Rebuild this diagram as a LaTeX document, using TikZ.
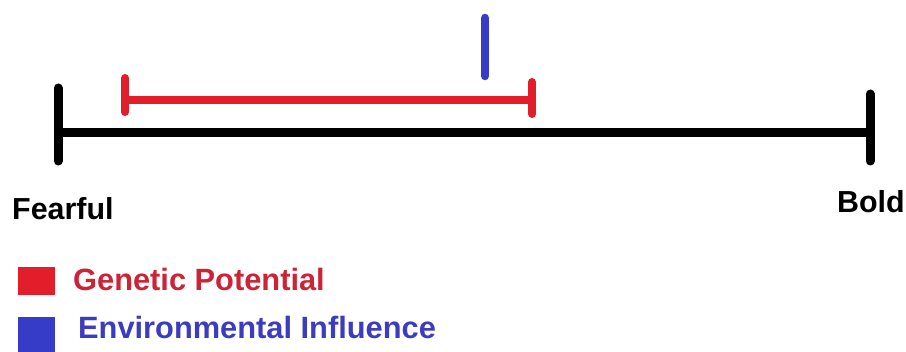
\documentclass[tikz,border=0pt]{standalone}
\usepackage{fontspec}
\setmainfont{Liberation Sans}
\definecolor{genred}{RGB}{225,30,42}
\definecolor{gentext}{RGB}{205,35,55}
\definecolor{envblue}{RGB}{55,60,200}
\definecolor{envtext}{RGB}{60,60,190}
\begin{document}
\begin{tikzpicture}[x=1pt,y=-1pt,
  bar/.style={line width=9pt,line cap=round},
  lbl/.style={inner sep=0pt,anchor=base west,font=\fontsize{30.4}{36}\selectfont\bfseries},
  leg/.style={lbl,font=\fontsize{30.8}{36}\selectfont\bfseries},
  swatch/.style={inner sep=0pt,minimum width=37pt,minimum height=28pt,anchor=north west}]
\useasboundingbox (0,0) rectangle (906,352);
% black scale
\coordinate (bL) at (58,133);
\coordinate (bR) at (870,133);
\coordinate (bLt) at (58,88);
\coordinate (bLb) at (58,161);
\coordinate (bRt) at (870,94);
\coordinate (bRb) at (870,161);
\draw[bar,black,line cap=butt] (bL) -- (bR);
\draw[bar,black] (bLt) -- (bLb);
\draw[bar,black] (bRt) -- (bRb);
% red genetic range
\coordinate (rL) at (125,100);
\coordinate (rR) at (532,100);
\coordinate (rLt) at (125,78);
\coordinate (rLb) at (125,112);
\coordinate (rRt) at (532,82);
\coordinate (rRb) at (532,114);
\draw[genred,line width=8pt] (rL) -- (rR);
\draw[bar,genred,line width=8pt] (rLt) -- (rLb);
\draw[bar,genred,line width=8pt] (rRt) -- (rRb);
% blue environmental mark
\coordinate (bt) at (485,18);
\coordinate (bb) at (485,76);
\draw[bar,envblue,line width=8.5pt] (bt) -- (bb);
% labels
\node[lbl] (fearful) at (12,220) {Fearful};
\node[lbl] (bold) at (837,213) {Bold};
% legend
\node[swatch,fill=genred] (sqr) at (18,267) {};
\node[leg,text=gentext] (gen) at (73,291) {Genetic Potential};
\node[swatch,fill=envblue,minimum height=36pt] (sqb) at (18,317) {};
\node[leg,text=envtext] (env) at (78,339) {Environmental Influence};
\end{tikzpicture}
\end{document}
